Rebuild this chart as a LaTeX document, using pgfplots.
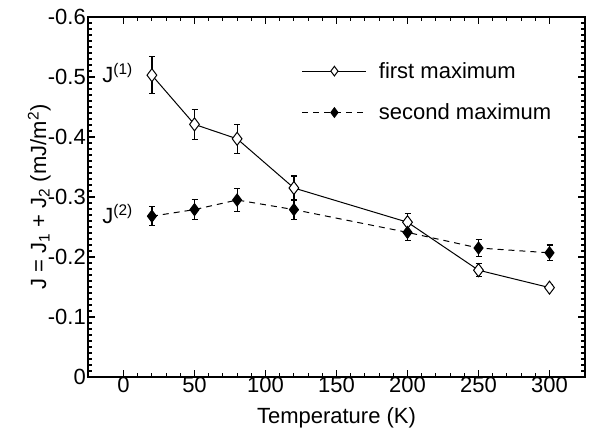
\documentclass[border=0pt]{standalone}
\usepackage{pgfplots}
\pgfplotsset{compat=1.18}
\usepackage{fontspec}
\setmainfont{Liberation Sans}
\newcommand{\bigf}{\fontsize{22}{25}\selectfont}
\begin{document}
\begin{tikzpicture}
\begin{axis}[
  font=\bigf,
  scale only axis, width=497pt, height=360pt,
  xmin=-25, xmax=325, ymin=-0.6, ymax=0,
  y dir=reverse,
  xtick={0,50,100,150,200,250,300},
  xticklabels={0,50,100,150,200,250,300},
  ytick={-0.6,-0.5,-0.4,-0.3,-0.2,-0.1,0},
  yticklabels={-0.6,-0.5,-0.4,-0.3,-0.2,-0.1,0},
  minor x tick num=4, minor y tick num=9,
  tick align=inside, major tick length=7pt, minor tick length=4pt,
  every tick/.style={line width=1.1pt, black},
  axis line style={line width=1.3pt},
  xtick pos=both, ytick pos=both,
  /pgf/number format/assume math mode=true,
  tick label style={font=\bigf},
  label style={font=\bigf},
  xlabel={Temperature (K)},
  ylabel={J = J\textsubscript{1} + J\textsubscript{2} (mJ/m\textsuperscript{2})},
  xticklabel style={inner sep=1pt, yshift=1pt},
  yticklabel style={inner sep=1pt, xshift=-1pt},
  xlabel style={at={(rel axis cs:0.5,0)}, anchor=base, inner sep=0pt, yshift=-47pt},
  ylabel style={inner sep=1pt, yshift=-5pt},
  legend style={draw=none, fill=none, at={(0.43,0.88)}, anchor=north west, row sep=20pt, column sep=10pt, font=\bigf, inner sep=0pt},
  legend cell align=left,
  legend image code/.code={\draw[mark repeat=2,mark phase=2,#1, mark size=4.8pt] plot coordinates {(0pt,0pt) (32pt,0pt) (64pt,0pt)};},
]
\addplot[black, line width=1pt, mark=diamond*, mark size=6.5pt,
  mark options={fill=white, solid, line width=1pt},
  error bars/.cd, y dir=both, y explicit,
  error bar style={line width=1.2pt, solid},
  error mark options={rotate=90, mark size=3pt, line width=1.2pt}]
coordinates {
 (20,-0.503) +- (0,0.031)
 (50,-0.421) +- (0,0.025)
 (80,-0.397) +- (0,0.024)
 (120,-0.315) +- (0,0.020)
 (200,-0.258) +- (0,0.015)
 (250,-0.178) +- (0,0.011)
 (300,-0.149) +- (0,0.005)
};
\addlegendentry{first maximum}
\addplot[black, line width=1pt, dash pattern=on 6pt off 5pt, mark=diamond*, mark size=6pt,
  mark options={fill=black, solid},
  error bars/.cd, y dir=both, y explicit,
  error bar style={line width=1.2pt, solid},
  error mark options={rotate=90, mark size=3pt, line width=1.2pt}]
coordinates {
 (20,-0.268) +- (0,0.016)
 (50,-0.279) +- (0,0.017)
 (80,-0.295) +- (0,0.019)
 (120,-0.279) +- (0,0.017)
 (200,-0.241) +- (0,0.014)
 (250,-0.215) +- (0,0.014)
 (300,-0.207) +- (0,0.013)
};
\addlegendentry{second maximum}
\node[font=\bigf, anchor=base west, inner sep=0pt] at (axis cs:-15,-0.491) {J\textsuperscript{(1)}};
\node[font=\bigf, anchor=base west, inner sep=0pt] at (axis cs:-15,-0.256) {J\textsuperscript{(2)}};
\end{axis}
\path ([xshift=-88pt,yshift=-55pt]current axis.south west) ([xshift=12pt,yshift=17pt]current axis.north east);
\end{tikzpicture}
\end{document}
